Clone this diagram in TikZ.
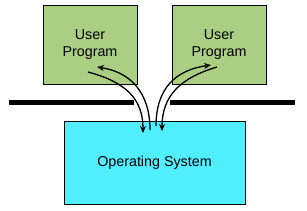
\documentclass[tikz,border=0pt]{standalone}
\usepackage{fontspec}
\setmainfont{Liberation Sans}
\usetikzlibrary{arrows.meta}
\definecolor{progGreen}{RGB}{170,206,130}
\definecolor{osCyan}{RGB}{80,238,255}
\tikzset{
  progbox/.style={draw=black,line width=0.8pt,fill=progGreen,minimum width=94pt,minimum height=79pt,
    inner sep=0pt,align=center,font=\fontsize{14.3}{16.5}\selectfont},
  osbox/.style={draw=black,line width=0.8pt,fill=osCyan,minimum width=181pt,minimum height=83pt,
    inner sep=0pt,font=\fontsize{14.3}{16.5}\selectfont},
  barline/.style={line width=5pt},
  callarrow/.style={line width=1.3pt,-{Stealth[length=7pt,width=6pt]}}
}
\begin{document}
\begin{tikzpicture}[x=1pt,y=-1pt]
  \useasboundingbox (0,0) rectangle (307,210);
  \node[progbox] (userA) at (90,44.5) {User\\Program};
  \node[progbox] (userB) at (219,44.5) {User\\Program};
  \node[osbox] (os) at (154.5,162.5) {Operating System};
  % the boundary between user space and kernel space
  \coordinate (barAw) at (9,102.5);
  \coordinate (barAe) at (134,102.5);
  \coordinate (barBw) at (170,102.5);
  \coordinate (barBe) at (295,102.5);
  \draw[barline] (barAw) -- (barAe);
  \draw[barline] (barBw) -- (barBe);
  % ends of the call and return arrows
  \coordinate (callA) at (88,72);
  \coordinate (trapA) at (143,133);
  \coordinate (retA) at (150,130);
  \coordinate (backA) at (97,67);
  \coordinate (callB) at (217,67);
  \coordinate (trapB) at (162,131);
  \coordinate (retB) at (156,126);
  \coordinate (backB) at (211,65);
  \draw[callarrow] (callA) .. controls (125,82) and (143,98) .. (trapA);
  \draw[callarrow] (retA) .. controls (150,92) and (130,72) .. (backA);
  \draw[callarrow] (callB) .. controls (180,78) and (162,96) .. (trapB);
  \draw[callarrow] (retB) .. controls (156,88) and (176,70) .. (backB);
\end{tikzpicture}
\end{document}
